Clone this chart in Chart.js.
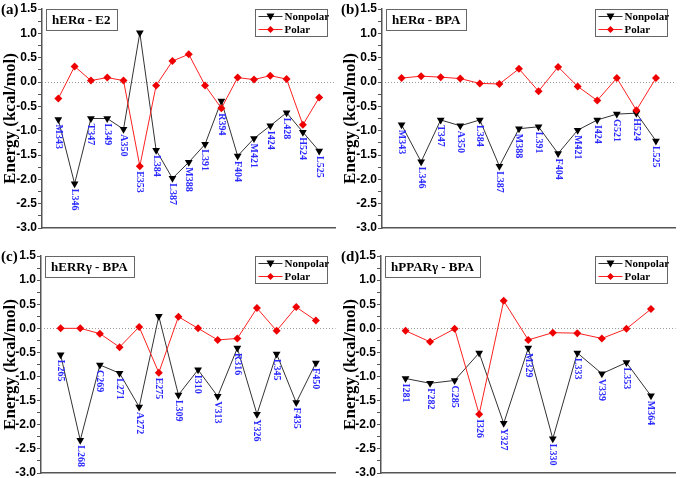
<!DOCTYPE html>
<html>
<head>
<meta charset="utf-8">
<script src="https://cdn.jsdelivr.net/npm/chart.js@4/dist/chart.umd.min.js"></script>
<style>
html, body { margin: 0; padding: 0; background: #fff; }
.panel { position: absolute; width: 340px; height: 239px; }
</style>
</head>
<body>
<div class="panel" style="left:0;top:0"><canvas id="cA" width="340" height="239"></canvas></div>
<div class="panel" style="left:340px;top:0"><canvas id="cB" width="340" height="239"></canvas></div>
<div class="panel" style="left:0;top:239px"><canvas id="cC" width="340" height="239"></canvas></div>
<div class="panel" style="left:340px;top:239px"><canvas id="cD" width="340" height="239"></canvas></div>
<script>
// (a) hERα - E2
const resA = ['M343', 'L346', 'T347', 'L349', 'A350', 'E353', 'L384', 'L387', 'M388', 'L391', 'R394', 'F404', 'M421', 'I424', 'L428', 'H524', 'L525'];
const nonpolarA = [-0.77, -2.09, -0.75, -0.75, -0.97, 1.01, -1.40, -1.98, -1.65, -1.28, -0.39, -1.52, -1.16, -0.90, -0.63, -1.03, -1.42];
const polarA = [-0.34, 0.32, 0.03, 0.09, 0.03, -1.73, -0.07, 0.43, 0.57, -0.07, -0.54, 0.09, 0.05, 0.13, 0.06, -0.88, -0.32];

// (b) hERα - BPA
const resB = ['M343', 'L346', 'T347', 'A350', 'L384', 'L387', 'M388', 'L391', 'F404', 'M421', 'I424', 'G521', 'H524', 'L525'];
const nonpolarB = [-0.88, -1.64, -0.78, -0.90, -0.78, -1.73, -0.96, -0.92, -1.47, -0.99, -0.78, -0.66, -0.64, -1.21];
const polarB = [0.08, 0.12, 0.10, 0.07, -0.03, -0.04, 0.27, -0.19, 0.31, -0.09, -0.38, 0.08, -0.58, 0.08];

// (c) hERRγ - BPA
const resC = ['L265', 'L268', 'C269', 'L271', 'A272', 'E275', 'L309', 'I310', 'V313', 'R316', 'Y326', 'L345', 'F435', 'F450'];
const nonpolarC = [-0.55, -2.32, -0.76, -0.93, -1.63, 0.25, -1.38, -0.86, -1.41, -0.41, -1.78, -0.53, -1.54, -0.72];
const polarC = [0.00, 0.00, -0.11, -0.39, 0.03, -0.92, 0.24, 0.00, -0.24, -0.21, 0.42, -0.05, 0.44, 0.16];

// (d) hPPARγ - BPA
const resD = ['I281', 'F282', 'C285', 'I326', 'Y327', 'M329', 'L330', 'L333', 'V339', 'L353', 'M364'];
const nonpolarD = [-1.04, -1.14, -1.08, -0.51, -1.97, -0.41, -2.29, -0.51, -0.94, -0.71, -1.40];
const polarD = [-0.05, -0.28, -0.01, -1.78, 0.57, -0.24, -0.09, -0.10, -0.21, -0.01, 0.40];

const yMin = -3.0, yMax = 1.5, yStep = 0.25;

const SERIF = '"Liberation Serif", "Times New Roman", serif';
const SANS = '"Liberation Sans", Arial, sans-serif';

function marker(ctx, style, x, y, r, color) {
  ctx.fillStyle = color;
  ctx.beginPath();
  if (style === 'down') {
    ctx.moveTo(x - r, y - r * 0.75);
    ctx.lineTo(x + r, y - r * 0.75);
    ctx.lineTo(x, y + r);
  } else {
    ctx.moveTo(x, y - r);
    ctx.lineTo(x + r, y);
    ctx.lineTo(x, y + r);
    ctx.lineTo(x - r, y);
  }
  ctx.closePath();
  ctx.fill();
}

// zero line, labels, title box, legend
const panelDeco = {
  id: 'panelDeco',
  beforeDatasetsDraw(chart) {
    const { ctx, chartArea, scales } = chart;
    const y0 = Math.round(scales.y.getPixelForValue(0)) + 0.5;
    ctx.save();
    ctx.strokeStyle = '#9a9a9a';
    ctx.lineWidth = 1;
    ctx.setLineDash([1, 2]);
    ctx.beginPath();
    ctx.moveTo(chartArea.left, y0);
    ctx.lineTo(chartArea.right, y0);
    ctx.stroke();
    ctx.restore();
  },
  afterDatasetsDraw(chart, args, opts) {
    const { ctx, chartArea, scales } = chart;
    const np = chart.data.datasets[0].data;
    const po = chart.data.datasets[1].data;
    ctx.save();

    // residue names, rotated, under the lower point
    ctx.fillStyle = '#2a2aff';
    ctx.font = 'bold 10px ' + SERIF;
    ctx.textAlign = 'left';
    ctx.textBaseline = 'middle';
    opts.residues.forEach((r, i) => {
      const low = Math.min(np[i].y, po[i].y);
      const x = scales.x.getPixelForValue(i);
      const y = scales.y.getPixelForValue(low) + 5;
      ctx.save();
      ctx.translate(x, y);
      ctx.rotate(Math.PI / 2);
      ctx.fillText(r, 0, 0);
      ctx.restore();
    });

    // panel letter
    ctx.fillStyle = '#000';
    ctx.font = 'bold 15px ' + SERIF;
    ctx.textBaseline = 'middle';
    ctx.fillText(opts.letter, 1, scales.y.getPixelForValue(yMax) + 1);

    // title box
    ctx.font = 'bold 13px ' + SERIF;
    const tw = ctx.measureText(opts.title).width;
    const bx = chartArea.left + 4, by = chartArea.top + 0.5;
    ctx.fillStyle = '#fff';
    ctx.fillRect(bx, by, tw + 12, 21);
    ctx.strokeStyle = '#666';
    ctx.lineWidth = 1;
    ctx.strokeRect(Math.round(bx) + 0.5, by, Math.round(tw + 12), 21);
    ctx.fillStyle = '#000';
    ctx.fillText(opts.title, bx + 6, by + 11);

    // legend box
    const lw = 72, lh = 27;
    const lx = Math.round(chartArea.right - lw - 9) + 0.5, ly = Math.round(chartArea.top) + 0.5;
    ctx.fillStyle = '#fff';
    ctx.fillRect(lx, ly, lw, lh);
    ctx.strokeStyle = '#666';
    ctx.strokeRect(lx, ly, lw, lh);
    const rows = [
      { name: 'Nonpolar', line: '#333', color: '#000', style: 'down', r: 4 },
      { name: 'Polar', line: '#ff2020', color: '#ee0000', style: 'diamond', r: 3.5 }
    ];
    ctx.font = 'bold 11px ' + SERIF;
    rows.forEach((row, k) => {
      const yy = ly + 7 + k * 13;
      ctx.strokeStyle = row.line;
      ctx.beginPath();
      ctx.moveTo(lx + 3, yy);
      ctx.lineTo(lx + 27, yy);
      ctx.stroke();
      marker(ctx, row.style, lx + 15, yy, row.r, row.color);
      ctx.fillStyle = '#000';
      ctx.fillText(row.name, lx + 29, yy + 0.5);
    });
    ctx.restore();
  }
};

function toPoints(arr) {
  return arr.map((v, i) => ({ x: i, y: v }));
}

function renderPanel(canvasId, letter, title, residues, nonpolar, polar, top, bottom, axisLeft) {
  const ctx = document.getElementById(canvasId).getContext('2d');
  return new Chart(ctx, {
    type: 'line',
    data: {
      datasets: [{
        label: 'Nonpolar',
        data: toPoints(nonpolar),
        borderColor: '#333',
        borderWidth: 1,
        pointStyle: 'triangle',
        rotation: 180,
        pointRadius: 4.5,
        pointBackgroundColor: '#000',
        pointBorderWidth: 0,
        order: 1
      }, {
        label: 'Polar',
        data: toPoints(polar),
        borderColor: '#ff2020',
        borderWidth: 1,
        pointStyle: 'rectRot',
        pointRadius: 4,
        pointBackgroundColor: '#ee0000',
        pointBorderWidth: 0,
        order: 0
      }]
    },
    options: {
      responsive: false,
      animation: false,
      devicePixelRatio: 1,
      layout: { padding: { left: 0, right: 2, top: top, bottom: bottom } },
      plugins: {
        legend: { display: false },
        tooltip: { enabled: false },
        panelDeco: { letter: letter, title: title, residues: residues }
      },
      scales: {
        x: {
          type: 'linear',
          min: -1,
          max: residues.length,
          grid: { display: false, drawTicks: false },
          ticks: { display: false },
          border: { display: true, color: '#555', width: 1.5 }
        },
        y: {
          min: yMin,
          max: yMax,
          afterFit: s => { s.width = axisLeft; s.paddingTop = 0; s.paddingBottom = 0; },
          ticks: {
            stepSize: yStep,
            autoSkip: false,
            padding: 1,
            color: '#000',
            font: { family: SANS, size: 12, weight: 'bold' },
            callback: v => (Math.abs(v * 2 - Math.round(v * 2)) < 1e-6 ? v.toFixed(1) : '')
          },
          grid: { drawOnChartArea: false, drawTicks: true, tickLength: 4, color: '#555' },
          border: { display: true, color: '#555', width: 1.5 },
          title: {
            display: true,
            text: 'Energy (kcal/mol)',
            color: '#000',
            padding: 0,
            font: { family: SERIF, size: 17, weight: 'bold' }
          }
        }
      }
    },
    plugins: [panelDeco]
  });
}

renderPanel('cA', '(a)', 'hERα - E2', resA, nonpolarA, polarA, 9, 11, 42);
renderPanel('cB', '(b)', 'hERα - BPA', resB, nonpolarB, polarB, 9, 11, 42);
renderPanel('cC', '(c)', 'hERRγ - BPA', resC, nonpolarC, polarC, 17, 5, 41);
renderPanel('cD', '(d)', 'hPPARγ - BPA', resD, nonpolarD, polarD, 17, 5, 41);
</script>
</body>
</html>
